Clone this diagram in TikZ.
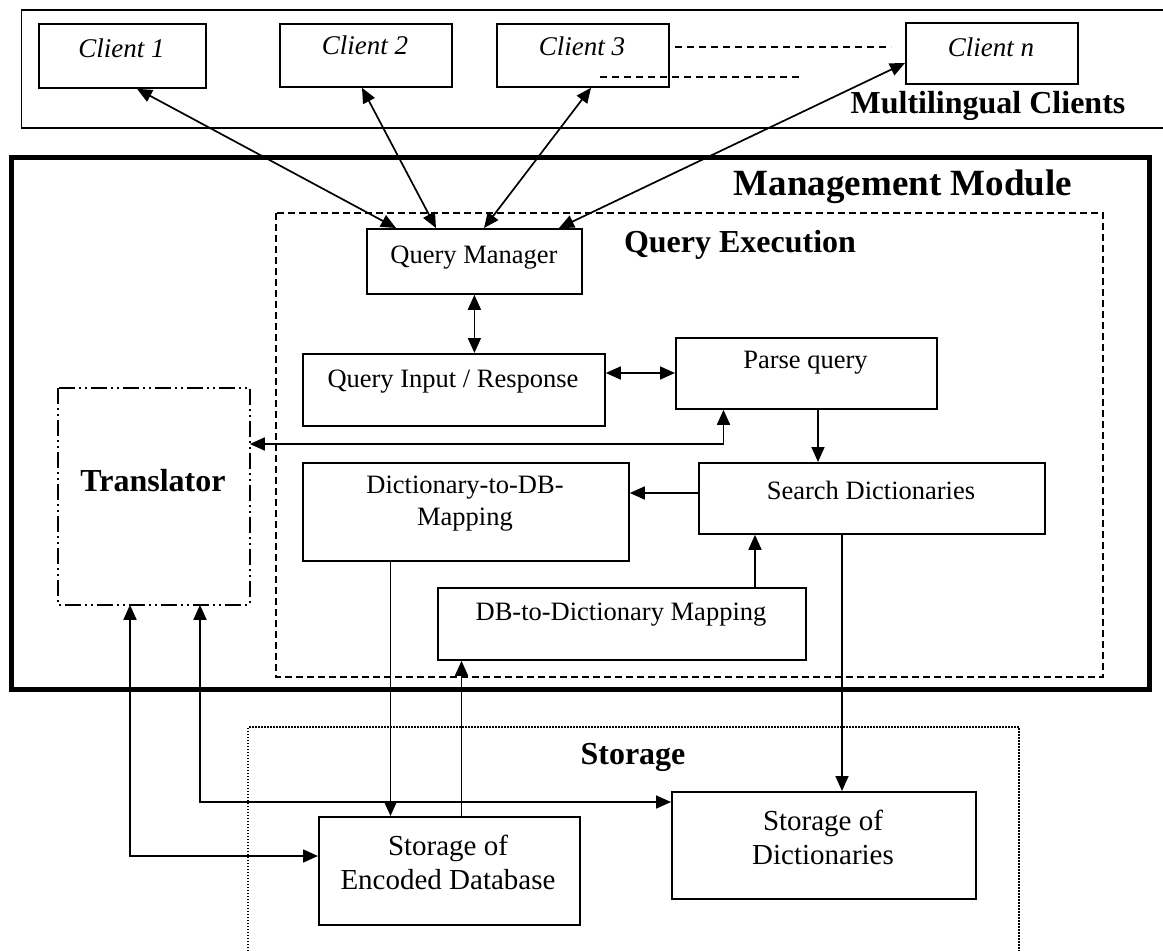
\documentclass[tikz,border=0pt]{standalone}
\usepackage{fontspec}
\setmainfont{Liberation Serif}
\usetikzlibrary{arrows.meta}
\begin{document}
\begin{tikzpicture}[x=1pt,y=-1pt,
  box/.style={draw,line width=1.8pt,inner sep=0pt,anchor=north west},
  ln/.style={line width=1.7pt},
  arr/.style={ln,-{Triangle[length=15pt,width=13pt]}},
  darr/.style={ln,{Triangle[length=15pt,width=13pt]}-{Triangle[length=15pt,width=13pt]}},
  cli/.style={font=\fontsize{27}{30}\selectfont\itshape},
  txt/.style={font=\fontsize{26.5}{32}\selectfont,align=center},
  stxt/.style={font=\fontsize{29}{34}\selectfont,align=center},
  btxt/.style={font=\fontsize{32}{36}\selectfont\bfseries},
]
\useasboundingbox (0,0) rectangle (1163,951);
% frames
\draw[line width=1.6pt] (1170,10) -- (21.5,10) -- (21.5,128) -- (1170,128);
\node[btxt] (mlc) at (988,106) {Multilingual Clients};
\draw[line width=5pt] (11.5,157.5) rectangle (1149,689);
\node[font=\fontsize{37}{40}\selectfont\bfseries] (mm) at (903,187) {Management Module};
\draw[line width=1.7pt,dash pattern=on 7pt off 4pt] (276,213) rectangle (1103,677);
\node[btxt] (qe) at (740,245) {Query Execution};
\draw[line width=1.4pt,dash pattern=on 1.5pt off 1.5pt] (248,960) -- (248,727) -- (1019,727) -- (1019,960);
\node[btxt] (stl) at (633,757) {Storage};

% clients
\node[box,minimum width=167pt,minimum height=64pt] (c1) at (38,23) {};
\node[cli] (c1t) at (121.5,48) {Client 1};
\node[box,minimum width=172pt,minimum height=63pt] (c2) at (279,23) {};
\node[cli] (c2t) at (365,45) {Client 2};
\node[box,minimum width=172pt,minimum height=63pt] (c3) at (496,23) {};
\node[cli] (c3t) at (582,46) {Client 3};
\node[box,minimum width=172pt,minimum height=61pt] (cn) at (905,22) {};
\node[cli] (cnt) at (991,47) {Client n};
\coordinate (d1) at (675,47);
\coordinate (d2) at (891,47);
\coordinate (d3) at (600,77);
\coordinate (d4) at (800,77);
\draw[ln,dash pattern=on 7pt off 5pt] (d1) -- (d2);
\draw[ln,dash pattern=on 7pt off 5pt] (d3) -- (d4);

% translator
\node[box,minimum width=190pt,minimum height=215pt,draw=none] (tr) at (58,388) {};
\draw[line width=1.7pt,dash pattern=on 16pt off 4pt on 2pt off 4pt on 2pt off 4pt] (tr.north west) rectangle (tr.south east);
\node[btxt] (trt) at (153,481) {Translator};

% inner boxes
\node[box,minimum width=215pt,minimum height=65pt] (qm) at (366,228) {};
\node[txt] (qmt) at (474,258) {Query Manager};
\node[box,minimum width=302pt,minimum height=72pt] (qir) at (302,353) {};
\node[txt] (qirt) at (453,382) {Query Input / Response};
\node[box,minimum width=261pt,minimum height=71pt] (pq) at (675,337) {};
\node[txt] (pqt) at (805.5,363) {Parse query};
\node[box,minimum width=346pt,minimum height=71pt] (sd) at (698,462) {};
\node[txt] (sdt) at (871,490) {Search Dictionaries};
\node[box,minimum width=326pt,minimum height=98pt] (dm) at (302,462) {};
\node[txt] (dmt) at (465,504) {Dictionary-to-DB-\\Mapping};
\node[box,minimum width=368pt,minimum height=72pt] (dbm) at (437,587) {};
\node[txt] (dbmt) at (621,615) {DB-to-Dictionary Mapping};

% storage boxes
\node[box,minimum width=261pt,minimum height=108pt] (se) at (318,816) {};
\node[stxt] (set) at (448,862) {Storage of\\Encoded Database};
\node[box,minimum width=304pt,minimum height=107pt] (so) at (671,791) {};
\node[stxt] (sot) at (823,837) {Storage of\\Dictionaries};

% client connectors
\draw[darr] (c1.south -| 137,0) -- (qm.north -| 396,0);
\draw[darr] (c2.south -| 362,0) -- (qm.north -| 436,0);
\draw[darr] (c3.south -| 591,0) -- (qm.north -| 484,0);
\draw[darr] (cn.west |- 0,63) -- (qm.north -| 559,0);

% inner connectors
\draw[darr] (qm.south) -- (qir.north -| qm.south);
\draw[darr] (qir.east |- 0,373) -- (pq.west |- 0,373);
\draw[darr] (tr.east |- 0,444) -- (723.5,444) -- (pq.south -| 723.5,0);
\draw[arr] (pq.south -| 818,0) -- (sd.north -| 818,0);
\draw[arr] (sd.west |- 0,493) -- (dm.east |- 0,493);
\draw[arr] (dbm.north -| 755,0) -- (sd.south -| 755,0);
\draw[arr] (sd.south -| 842,0) -- (so.north -| 842,0);
\draw[arr] (dm.south -| 390.5,0) -- (se.north -| 390.5,0);
\draw[arr] (se.north -| 461.5,0) -- (dbm.south -| 461.5,0);
\draw[darr] (tr.south -| 130,0) -- (130,856) -- (se.west |- 0,856);
\draw[darr] (tr.south -| 200,0) -- (200,802) -- (so.west |- 0,802);
\end{tikzpicture}
\end{document}
